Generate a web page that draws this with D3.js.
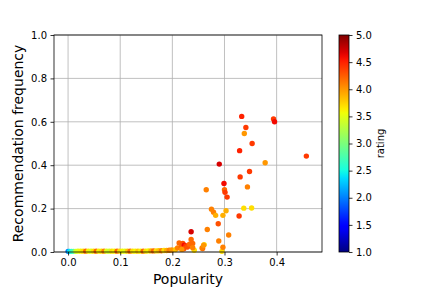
<!DOCTYPE html>
<html>
<head>
<meta charset="UTF-8">
<title>Popularity vs recommendation frequency</title>
<style>
  body { margin: 0; background: #fff; }
  text { font-family: "DejaVu Sans", sans-serif; fill: #000; }
</style>
</head>
<body>
<div id="chart"></div>
<script src="https://cdnjs.cloudflare.com/ajax/libs/d3/7.8.5/d3.min.js"></script>
<script>
// data
const popularity = [
  0.000, 0.003, 0.007, 0.011, 0.015, 0.019, 0.024, 0.029, 0.034, 0.039,
  0.044, 0.049, 0.054, 0.059, 0.064, 0.069, 0.074, 0.079, 0.084, 0.089,
  0.094, 0.099, 0.104, 0.109, 0.114, 0.119, 0.124, 0.129, 0.134, 0.139,
  0.144, 0.149, 0.154, 0.159, 0.164, 0.169, 0.174, 0.179, 0.184, 0.189,
  0.194, 0.199,
  0.206, 0.210, 0.213, 0.217, 0.220, 0.223, 0.226, 0.229, 0.233, 0.236,
  0.239, 0.242, 0.236, 0.258, 0.261, 0.257, 0.260, 0.267, 0.265, 0.275,
  0.279, 0.283, 0.288, 0.289, 0.290, 0.295, 0.297, 0.297, 0.299, 0.300,
  0.301, 0.303, 0.305, 0.308, 0.328, 0.329, 0.330, 0.333, 0.337, 0.338,
  0.341, 0.344, 0.348, 0.352, 0.353, 0.378, 0.394, 0.396, 0.457, 0.239,
  0.222, 0.218
];
const frequency = [
  0.003, 0.003, 0.003, 0.003, 0.003, 0.004, 0.004, 0.004, 0.004, 0.004,
  0.004, 0.004, 0.004, 0.004, 0.004, 0.004, 0.004, 0.004, 0.004, 0.004,
  0.004, 0.004, 0.004, 0.004, 0.004, 0.004, 0.004, 0.004, 0.004, 0.004,
  0.004, 0.004, 0.005, 0.005, 0.005, 0.005, 0.006, 0.006, 0.007, 0.007,
  0.008, 0.009,
  0.011, 0.019, 0.042, 0.023, 0.039, 0.031, 0.028, 0.023, 0.036, 0.058,
  0.039, 0.008, 0.093, 0.016, 0.034, 0.019, 0.031, 0.104, 0.287, 0.197,
  0.183, 0.169, 0.130, 0.051, 0.405, 0.003, 0.169, 0.022, 0.316, 0.287,
  0.275, 0.190, 0.253, 0.078, 0.166, 0.467, 0.346, 0.625, 0.202, 0.546,
  0.574, 0.300, 0.371, 0.203, 0.500, 0.411, 0.613, 0.600, 0.442, 0.020,
  0.015, 0.012
];
const rating = [
  2.0, 2.4, 2.6, 2.8, 3.4, 3.5, 3.6, 3.7, 4.2, 3.6,
  3.5, 3.7, 4.2, 3.6, 3.7, 4.1, 3.5, 3.4, 3.7, 3.6,
  4.2, 3.7, 3.6, 3.5, 3.8, 4.2, 3.7, 3.6, 3.8, 3.6,
  4.2, 3.7, 3.6, 3.9, 4.2, 3.7, 3.8, 4.1, 3.7, 3.9,
  4.1, 4.0,
  3.8, 4.1, 4.2, 4.2, 4.3, 4.6, 4.4, 4.3, 4.2, 4.2,
  4.2, 3.7, 4.7, 4.2, 3.7, 4.1, 4.0, 4.1, 4.1, 4.1,
  4.1, 3.9, 4.3, 4.1, 4.7, 3.7, 3.9, 4.1, 4.6, 4.2,
  4.4, 3.9, 4.4, 4.1, 4.4, 4.5, 4.4, 4.5, 3.7, 4.0,
  4.4, 4.1, 4.4, 3.7, 4.4, 4.0, 4.4, 4.6, 4.4, 4.1,
  4.3, 4.0
];
const xTicks = [0.0, 0.1, 0.2, 0.3, 0.4];
const yTicks = [0.0, 0.2, 0.4, 0.6, 0.8, 1.0];
const cTicks = [1.0, 1.5, 2.0, 2.5, 3.0, 3.5, 4.0, 4.5, 5.0];

const W = 432, H = 288;
const m = {left: 54, right: 322, top: 35, bottom: 252};

// matplotlib jet, piecewise linear
const jetR = [[0, 0], [0.35, 0], [0.66, 1], [0.89, 1], [1, 0.5]];
const jetG = [[0, 0], [0.125, 0], [0.375, 1], [0.64, 1], [0.91, 0], [1, 0]];
const jetB = [[0, 0.5], [0.11, 1], [0.34, 1], [0.65, 0], [1, 0]];
function seg(pts, t) {
  for (let i = 1; i < pts.length; i++) {
    if (t <= pts[i][0]) {
      const [x0, y0] = pts[i - 1], [x1, y1] = pts[i];
      return y0 + (y1 - y0) * (t - x0) / (x1 - x0);
    }
  }
  return pts[pts.length - 1][1];
}
function jet(t) {
  t = Math.max(0, Math.min(1, t));
  return d3.rgb(seg(jetR, t) * 255, seg(jetG, t) * 255, seg(jetB, t) * 255).formatHex();
}

const svg = d3.select('#chart').append('svg')
  .attr('width', W).attr('height', H);

const x = d3.scaleLinear().domain([-0.027, 0.487]).range([m.left, m.right]);
const y = d3.scaleLinear().domain([0, 1]).range([m.bottom, m.top]);
const c = d3.scaleLinear().domain([1, 5]).range([0, 1]);

// grid
svg.append('g').selectAll('line').data(xTicks).join('line')
  .attr('x1', d => x(d)).attr('x2', d => x(d))
  .attr('y1', m.top).attr('y2', m.bottom)
  .attr('stroke', '#b0b0b0').attr('stroke-width', 0.8);
svg.append('g').selectAll('line').data(yTicks).join('line')
  .attr('x1', m.left).attr('x2', m.right)
  .attr('y1', d => y(d)).attr('y2', d => y(d))
  .attr('stroke', '#b0b0b0').attr('stroke-width', 0.8);

// points
const pts = popularity.map((p, i) => ({p, f: frequency[i], r: rating[i]}));
svg.append('g').selectAll('circle').data(pts).join('circle')
  .attr('cx', d => x(d.p)).attr('cy', d => y(d.f))
  .attr('r', 2.7)
  .attr('fill', d => jet(c(d.r)));

// axes
const xAxis = svg.append('g').attr('transform', `translate(0,${m.bottom})`)
  .call(d3.axisBottom(x).tickValues(xTicks).tickFormat(d3.format('.1f')).tickSizeOuter(0).tickSize(3.5).tickPadding(3.5));
const yAxis = svg.append('g').attr('transform', `translate(${m.left},0)`)
  .call(d3.axisLeft(y).tickValues(yTicks).tickFormat(d3.format('.1f')).tickSizeOuter(0).tickSize(3.5).tickPadding(3.5));
[xAxis, yAxis].forEach(g => {
  g.select('.domain').remove();
  g.selectAll('text').attr('font-size', 10).attr('font-family', '"DejaVu Sans", sans-serif').attr('fill', '#000');
  g.selectAll('line').attr('stroke', '#000').attr('stroke-width', 0.8);
});

svg.append('rect')
  .attr('x', m.left).attr('y', m.top)
  .attr('width', m.right - m.left).attr('height', m.bottom - m.top)
  .attr('fill', 'none').attr('stroke', '#000').attr('stroke-width', 0.8);

svg.append('text')
  .attr('x', (m.left + m.right) / 2).attr('y', 284)
  .attr('text-anchor', 'middle').attr('font-size', 14)
  .text('Popularity');
svg.append('text')
  .attr('transform', `translate(23,${(m.top + m.bottom) / 2}) rotate(-90)`)
  .attr('text-anchor', 'middle').attr('font-size', 14)
  .text('Recommendation frequency');

// colorbar
const cb = {x: 339, w: 10};
const defs = svg.append('defs');
const grad = defs.append('linearGradient').attr('id', 'jet')
  .attr('x1', 0).attr('y1', 1).attr('x2', 0).attr('y2', 0);
grad.selectAll('stop').data(d3.range(0, 1.0001, 0.02)).join('stop')
  .attr('offset', d => d).attr('stop-color', d => jet(d));
const cy = d3.scaleLinear().domain([1, 5]).range([m.bottom, m.top]);
svg.append('rect')
  .attr('x', cb.x).attr('y', m.top).attr('width', cb.w).attr('height', m.bottom - m.top)
  .attr('fill', 'url(#jet)').attr('stroke', '#000').attr('stroke-width', 0.8);
const cAxis = svg.append('g').attr('transform', `translate(${cb.x + cb.w},0)`)
  .call(d3.axisRight(cy).tickValues(cTicks).tickFormat(d3.format('.1f')).tickSizeOuter(0).tickSize(3.5).tickPadding(3.5));
cAxis.select('.domain').remove();
cAxis.selectAll('text').attr('font-size', 10).attr('font-family', '"DejaVu Sans", sans-serif').attr('fill', '#000');
cAxis.selectAll('line').attr('stroke', '#000').attr('stroke-width', 0.8);
svg.append('text')
  .attr('transform', `translate(384,${(m.top + m.bottom) / 2}) rotate(-90)`)
  .attr('text-anchor', 'middle').attr('font-size', 10)
  .text('rating');
</script>
</body>
</html>
